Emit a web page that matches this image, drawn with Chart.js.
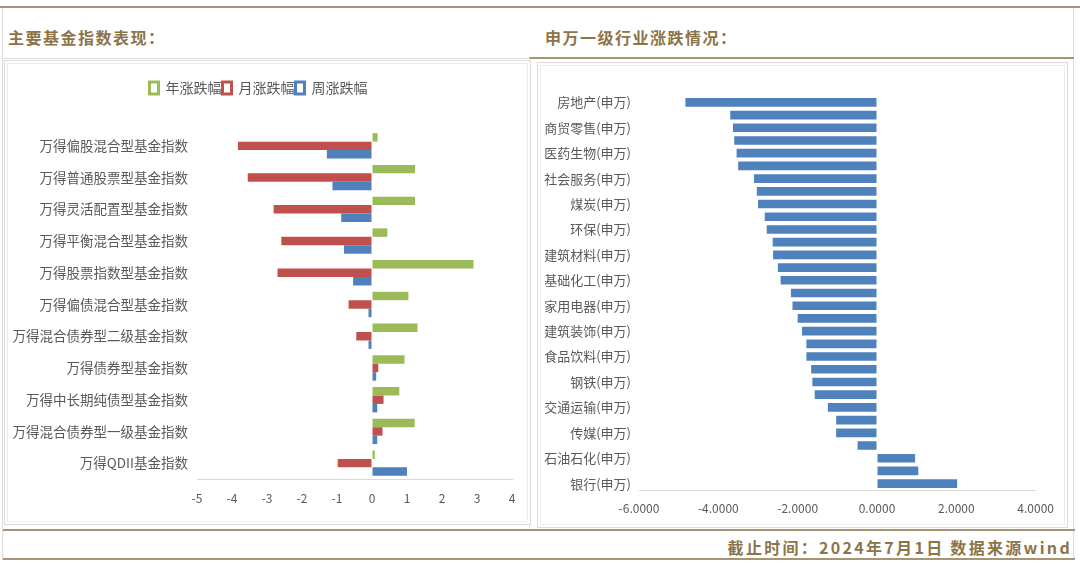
<!DOCTYPE html>
<html>
<head>
<meta charset="utf-8">
<script src="https://cdn.jsdelivr.net/npm/chart.js@4/dist/chart.umd.min.js"></script>
<style>
  body { margin: 0; width: 1080px; height: 564px; overflow: hidden; background: #fff; position: relative; font-family: "Noto Sans CJK SC", sans-serif; }
  .line { position: absolute; }
  .title { position: absolute; color: #8B7548; font-weight: 700; font-size: 16px; letter-spacing: 1.5px; line-height: 20px; }
  .panel { position: absolute; border: 1px solid #dcdcdc; box-shadow: inset 0 0 0 2px #fff, inset 0 0 0 3px #ececec; }
  .box { position: absolute; }
</style>
</head>
<body>
<div class="line" style="left:0;top:6px;width:1080px;height:2px;background:#A89472;"></div>
<div class="line" style="left:2px;top:8px;width:1px;height:552px;background:#dcdcdc;"></div>
<div class="line" style="left:1073px;top:8px;width:1px;height:552px;background:#dcdcdc;"></div>
<div class="line" style="left:2px;top:58px;width:527px;height:1px;background:#dcdcdc;"></div>
<div class="line" style="left:529px;top:57px;width:545px;height:2px;background:#A89472;"></div>
<div class="line" style="left:529px;top:58px;width:1px;height:470px;background:#dcdcdc;"></div>
<div class="title" style="left:8px;top:27px;">主要基金指数表现：</div>
<div class="title" style="left:545px;top:27px;">申万一级行业涨跌情况：</div>

<div class="panel" style="left:4px;top:60px;width:525px;height:463px;"></div>
<div class="panel" style="left:537px;top:62px;width:529px;height:464px;"></div>

<div class="box" style="left:5px;top:62px;width:523px;height:460px;"><canvas id="fundChart"></canvas></div>
<div class="box" style="left:539px;top:64px;width:526px;height:462px;"><canvas id="industryChart"></canvas></div>

<div class="line" style="left:3px;top:529px;width:1072px;height:2px;background:#A89472;"></div>
<div class="title" style="right:8px;top:537px;letter-spacing:2.3px;">截止时间：2024年7月1日 数据来源wind</div>
<div class="line" style="left:3px;top:558px;width:1072px;height:2px;background:#A89472;"></div>

<script>
const fundNames = ['万得偏股混合型基金指数', '万得普通股票型基金指数', '万得灵活配置型基金指数', '万得平衡混合型基金指数', '万得股票指数型基金指数', '万得偏债混合型基金指数', '万得混合债券型二级基金指数', '万得债券型基金指数', '万得中长期纯债型基金指数', '万得混合债券型一级基金指数', '万得QDII基金指数'];
const yearChg = [0.16, 1.23, 1.23, 0.44, 2.90, 1.04, 1.30, 0.93, 0.78, 1.22, 0.08];
const monthChg = [-3.83, -3.55, -2.81, -2.59, -2.70, -0.67, -0.45, 0.18, 0.33, 0.30, -0.98];
const weekChg = [-1.29, -1.13, -0.88, -0.80, -0.54, -0.10, -0.10, 0.12, 0.15, 0.15, 1.00];
const fundTicks = [-5, -4, -3, -2, -1, 0, 1, 2, 3, 4];

const industryNames = ['房地产(申万)', '综合(申万)', '商贸零售(申万)', '美容护理(申万)', '医药生物(申万)', '纺织服饰(申万)', '社会服务(申万)', '轻工制造(申万)', '煤炭(申万)', '农林牧渔(申万)', '环保(申万)', '计算机(申万)', '建筑材料(申万)', '机械设备(申万)', '基础化工(申万)', '国防军工(申万)', '家用电器(申万)', '电力设备(申万)', '建筑装饰(申万)', '汽车(申万)', '食品饮料(申万)', '非银金融(申万)', '钢铁(申万)', '有色金属(申万)', '交通运输(申万)', '通信(申万)', '传媒(申万)', '公用事业(申万)', '石油石化(申万)', '电子(申万)', '银行(申万)'];
const industryChg = [-4.83, -3.70, -3.63, -3.60, -3.54, -3.50, -3.10, -3.03, -3.00, -2.83, -2.78, -2.63, -2.62, -2.50, -2.43, -2.17, -2.13, -2.00, -1.89, -1.78, -1.78, -1.66, -1.63, -1.57, -1.24, -1.03, -1.03, -0.49, 0.96, 1.04, 2.02];

const gray = '#595959';
const green = '#9BBB59';
const red = '#C0504D';
const blue = '#4F81BD';
const cjk = '"Noto Sans CJK SC", sans-serif';

Chart.defaults.font.family = cjk;
Chart.defaults.color = gray;
Chart.defaults.animation = false;

const legendHeight = {
  id: 'legendHeight',
  beforeInit(chart) {
    const fit = chart.legend.fit;
    chart.legend.fit = function () {
      fit.bind(chart.legend)();
      this.height = 50;
    };
  }
};

new Chart(document.getElementById('fundChart'), {
  type: 'bar',
  data: {
    labels: fundNames,
    datasets: [
      { label: '年涨跌幅', data: yearChg, backgroundColor: green },
      { label: '月涨跌幅', data: monthChg, backgroundColor: red },
      { label: '周涨跌幅', data: weekChg, backgroundColor: blue },
    ]
  },
  options: {
    indexAxis: 'y',
    responsive: true,
    maintainAspectRatio: false,
    layout: { padding: { top: 18, right: 16, left: 0, bottom: 0 } },
    datasets: { bar: { categoryPercentage: 0.8, barPercentage: 1 } },
    plugins: {
      tooltip: { enabled: false },
      legend: {
        labels: {
          color: gray,
          font: { size: 14 },
          boxWidth: 9,
          boxHeight: 12,
          padding: 1,
          generateLabels: (chart) => chart.data.datasets.map((ds, i) => ({
            text: ds.label,
            fillStyle: '#fff',
            strokeStyle: ds.backgroundColor,
            lineWidth: 3,
            fontColor: gray,
            datasetIndex: i
          }))
        }
      }
    },
    scales: {
      x: {
        min: -5,
        max: 4,
        afterBuildTicks: (scale) => { scale.ticks = fundTicks.map(v => ({ value: v })); },
        afterFit: (scale) => { scale.height = 43; },
        grid: { drawOnChartArea: false, drawTicks: false },
        border: { color: '#d9d9d9' },
        ticks: { color: gray, font: { size: 12 }, padding: 12 }
      },
      y: {
        afterFit: (scale) => { scale.width = 192; },
        grid: { display: false, drawTicks: false },
        border: { display: false },
        ticks: { color: gray, font: { size: 13.5 }, padding: 9 }
      }
    }
  },
  plugins: [legendHeight]
});

new Chart(document.getElementById('industryChart'), {
  type: 'bar',
  data: {
    labels: industryNames,
    datasets: [{ data: industryChg, backgroundColor: blue }]
  },
  options: {
    indexAxis: 'y',
    responsive: true,
    maintainAspectRatio: false,
    layout: { padding: { top: 32, right: 28, left: 0, bottom: 0 } },
    datasets: { bar: { categoryPercentage: 1, barPercentage: 0.68 } },
    plugins: { legend: { display: false }, tooltip: { enabled: false } },
    scales: {
      x: {
        min: -6,
        max: 4,
        ticks: { stepSize: 2, color: gray, font: { size: 12 }, padding: 11, callback: (v) => Number(v).toFixed(4) },
        afterFit: (scale) => { scale.height = 36; },
        grid: { drawOnChartArea: false, drawTicks: false },
        border: { color: '#d9d9d9' }
      },
      y: {
        afterFit: (scale) => { scale.width = 100; },
        grid: { display: false, drawTicks: false },
        border: { display: false },
        ticks: {
          autoSkip: false,
          color: gray,
          font: { size: 13 },
          padding: 8,
          callback: function (v, i) { return i % 2 === 0 ? this.getLabelForValue(v) : ''; }
        }
      }
    }
  }
});
</script>
</body>
</html>
